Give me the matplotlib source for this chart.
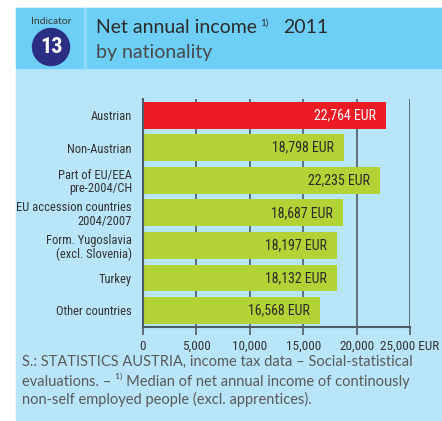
import matplotlib
matplotlib.use("Agg")
import matplotlib.pyplot as plt
from matplotlib.patches import Rectangle, Circle
from matplotlib.ticker import FixedLocator

categories = ["Austrian", "Non-Austrian", "Part of EU/EEA\npre-2004/CH",
              "EU accession countries\n2004/2007", "Form. Yugoslavia\n(excl. Slovenia)",
              "Turkey", "Other countries"]
income = [22764, 18798, 22235, 18687, 18197, 18132, 16568]
tick_values = [0, 5000, 10000, 15000, 20000, 25000]
tick_labels = ["0", "5,000", "10,000", "15,000", "20,000", "25,000 EUR"]

W, H = 442, 421
NARROW = ["Roboto Condensed", "PT Sans Narrow", "Archivo Narrow", "DejaVu Sans"]
SANS = ["Lato", "DejaVu Sans"]
RED = "#ed1c24"
GREEN = "#b2d235"
PANEL = "#b9e5f9"
HEADER = "#6dcff6"
GRID = "#4f5c66"

fig = plt.figure(figsize=(W / 100, H / 100), dpi=100)
fig.patch.set_facecolor("white")


def px(x, y):
    # pixel coords (top-left origin) -> figure fraction
    return x / W, 1 - y / H


# background panel and header band
fig.patches.append(Rectangle(px(16, H), (W - 16) / W, (H - 8) / H,
                             transform=fig.transFigure, color=PANEL, zorder=-10))
fig.patches.append(Rectangle(px(16, 68), (W - 16) / W, 60 / H,
                             transform=fig.transFigure, color=HEADER, zorder=-9))
fig.patches.append(Rectangle(px(84, 68), 2 / W, 60 / H,
                             transform=fig.transFigure, color="#92dcf8", zorder=-8))

# indicator badge
fig.text(*px(51, 21), "Indicator", family=SANS, fontsize=7.5, color="#3a3a3a",
         ha="center", va="center")
cx, cy = px(51, 47)
fig.patches.append(Circle((51, H - 47), 18.5, transform=None, color="#2b2e83", zorder=2))
fig.text(cx, cy, "13", family=NARROW, fontsize=16, fontweight="bold", color="white",
         ha="center", va="center", zorder=3)

# title
fig.text(*px(96, 33), "Net annual income", family=SANS, fontsize=14,
         color="#2b2b2b", ha="left", va="baseline")
fig.text(*px(260, 26), "1)", family=SANS, fontsize=7, color="#2b2b2b",
         ha="left", va="baseline")
fig.text(*px(283, 33), "2011", family=SANS, fontsize=14,
         color="#2b2b2b", ha="left", va="baseline")
fig.text(*px(96, 58), "by nationality", family=SANS, fontsize=14,
         color="#4a4a4a", ha="left", va="baseline")

# bar chart
l, b = px(143, 327.3)
r, t = px(410, 99)
ax = fig.add_axes([l, b, r - l, t - b])
ax.set_facecolor("none")
pos = range(len(categories))
colors = [RED] + [GREEN] * (len(categories) - 1)
ax.barh(pos, income, height=0.82, color=colors, zorder=2)
ax.set_ylim(len(categories) - 0.48, -0.5)
ax.set_xlim(0, 25000)

for i, v in enumerate(income):
    ax.text(v - 950, i, f"{v:,} EUR", family=NARROW, fontsize=10,
            color="white" if i == 0 else "#2a2a2a", ha="right", va="center", zorder=3)

ax.set_yticks(list(pos))
ax.set_yticklabels(categories, family=NARROW, fontsize=9, color="#333333",
                   linespacing=1.05)
ax.tick_params(axis="y", length=0, pad=8)
ax.xaxis.set_major_locator(FixedLocator(tick_values))
ax.set_xticklabels(tick_labels, family=NARROW, fontsize=9.5, color="#333333")
ax.tick_params(axis="x", length=6, width=1.2, color=GRID, pad=3)
ax.grid(axis="x", color=GRID, linewidth=1.2, zorder=1)
ax.set_axisbelow(True)
for s in ["top", "right"]:
    ax.spines[s].set_visible(False)
ax.spines["left"].set_color(GRID)
ax.spines["left"].set_linewidth(1.5)
ax.spines["bottom"].set_color(GRID)
ax.spines["bottom"].set_linewidth(1.5)

# footnote
fig.text(*px(22, 381), "S.: STATISTICS AUSTRIA, income tax data \u2013 Social-statistical\n"
         "evaluations. \u2013 \u00b9\u207e Median of net annual income of continously\n"
         "non-self employed people (excl. apprentices).",
         family=SANS, fontsize=10.5, color="#5a5a5a", ha="left", va="center",
         linespacing=1.3)

fig.savefig("out.png", dpi=100)
